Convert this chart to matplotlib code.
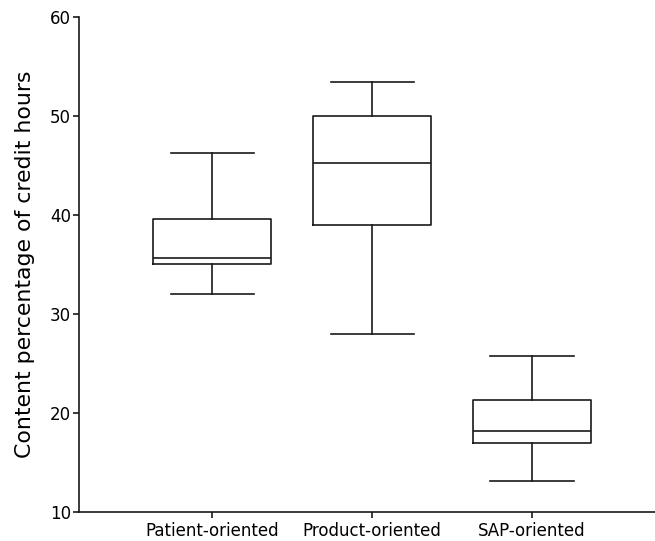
import matplotlib
matplotlib.use("Agg")
import matplotlib.pyplot as plt

groups = ["Patient-oriented", "Product-oriented", "SAP-oriented"]
whisker_low = [32.0, 28.0, 13.1]
q1 = [35.0, 39.0, 17.0]
median = [35.7, 45.25, 18.2]
q3 = [39.6, 50.0, 21.35]
whisker_high = [46.3, 53.4, 25.75]

stats = []
for name, lo, a, m, b, hi in zip(groups, whisker_low, q1, median, q3, whisker_high):
    stats.append({"label": name, "whislo": lo, "q1": a, "med": m,
                  "q3": b, "whishi": hi, "fliers": []})

fig = plt.figure(figsize=(6.55, 5.41), dpi=100)
ax = fig.add_axes([0.121, 0.0536, 0.879, 0.915])

line = dict(color="#1a1a1a", linewidth=1.2)
ax.bxp(stats, positions=[1, 2, 3], widths=0.74, capwidths=0.52,
       showfliers=False, boxprops=line, whiskerprops=line,
       capprops=line, medianprops=line)

ax.set_xlim(0.167, 3.77)
ax.set_ylim(10, 60)
ax.set_yticks([10, 20, 30, 40, 50, 60])
ax.set_ylabel("Content percentage of credit hours", fontsize=15.8, labelpad=11)
ax.tick_params(axis="both", labelsize=12, direction="out", length=4,
               width=1.2, color="#1a1a1a")
ax.tick_params(axis="y", pad=2)
for s in ["top", "right"]:
    ax.spines[s].set_visible(False)
for s in ["left", "bottom"]:
    ax.spines[s].set_linewidth(1.2)
    ax.spines[s].set_color("#1a1a1a")

fig.savefig("out.png", dpi=100)
